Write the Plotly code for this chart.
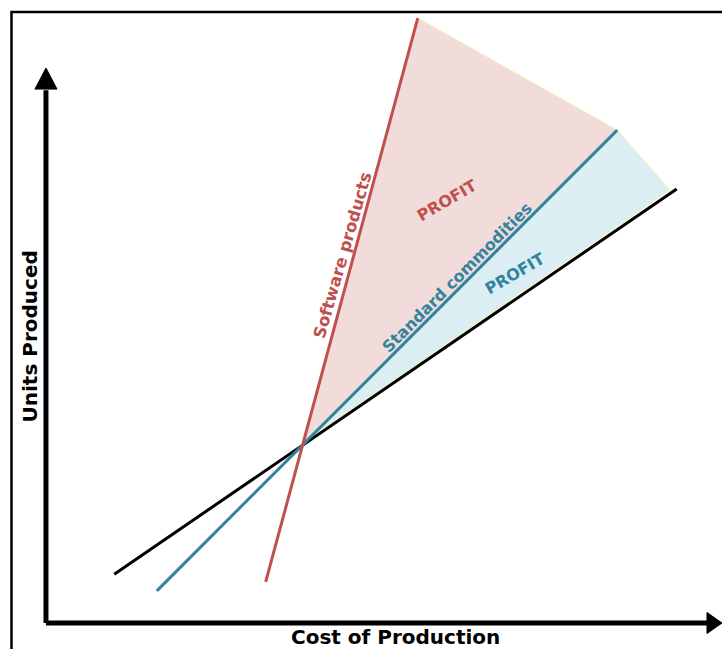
import plotly.graph_objects as go

# ---- data (axis units: cost 0-100, units 0-100) ----
break_even = [37.9, 32.4]            # common crossing point (cost, units)
cost_line_x = [10.1, 93.3]           # black cost line
cost_line_y = [8.8, 78.2]
commodity_x = [16.4, 84.5]           # standard commodities
commodity_y = [5.8, 88.8]
software_x = [32.5, 55.0]            # software products
software_y = [7.4, 109.0]
blue_corner = [92.3, 78.0]           # end of commodity profit band on cost line

labels = {
    "software": "Software products",
    "commodity": "Standard commodities",
    "profit": "PROFIT",
    "x_title": "Cost of Production",
    "y_title": "Units Produced",
}

RED = "#c0504d"
TEAL = "#31849b"
PINK = "#f2dcdb"
BLUE = "#daeef3"
EDGE = "#f3f0b0"
FONT = "DejaVu Sans"

X_RANGE = [-6.8, 100.0]
Y_RANGE = [-4.68, 112.25]

fig = go.Figure()

# profit regions
fig.add_trace(go.Scatter(
    x=[break_even[0], software_x[1], commodity_x[1], break_even[0]],
    y=[break_even[1], software_y[1], commodity_y[1], break_even[1]],
    fill="toself", fillcolor=PINK, mode="lines",
    line=dict(color=EDGE, width=1), hoverinfo="skip", showlegend=False))
fig.add_trace(go.Scatter(
    x=[break_even[0], commodity_x[1], blue_corner[0], break_even[0]],
    y=[break_even[1], commodity_y[1], blue_corner[1], break_even[1]],
    fill="toself", fillcolor=BLUE, mode="lines",
    line=dict(color=EDGE, width=1), hoverinfo="skip", showlegend=False))

# lines
fig.add_trace(go.Scatter(x=cost_line_x, y=cost_line_y, mode="lines",
                         line=dict(color="black", width=3), showlegend=False))
fig.add_trace(go.Scatter(x=commodity_x, y=commodity_y, mode="lines",
                         line=dict(color=TEAL, width=3), showlegend=False))
fig.add_trace(go.Scatter(x=software_x, y=software_y, mode="lines",
                         line=dict(color=RED, width=3), showlegend=False))

# axes arrows
x_end = 100.0
y_end = 100.0
fig.add_shape(type="line", x0=0, y0=0, x1=0, y1=y_end - 4, line=dict(color="black", width=5))
fig.add_shape(type="line", x0=0, y0=0, x1=x_end - 2, y1=0, line=dict(color="black", width=5))
fig.add_shape(type="path",
              path=f"M {-1.63} {y_end-3.8} L {1.63} {y_end-3.8} L 0 {y_end} Z",
              fillcolor="black", line=dict(color="black", width=1))
fig.add_shape(type="path",
              path=f"M {x_end-2.22} {-1.9} L {x_end-2.22} {1.9} L {x_end} 0 Z",
              fillcolor="black", line=dict(color="black", width=1))

# frame
fig.add_shape(type="rect", xref="paper", yref="paper",
              x0=11.5/722, x1=1.05, y0=-0.05, y1=1 - 12/649,
              line=dict(color="black", width=2.5))

# text labels
fig.add_annotation(x=43.9, y=66.2, text=f"<b>{labels['software']}</b>",
                   textangle=-74, showarrow=False, font=dict(family=FONT, size=16.5, color=RED))
fig.add_annotation(x=60.8, y=62.3, text=f"<b>{labels['commodity']}</b>",
                   textangle=-45, showarrow=False, font=dict(family=FONT, size=16, color=TEAL))
fig.add_annotation(x=59.3, y=76.2, text=f"<b>{labels['profit']}</b>",
                   textangle=-30, showarrow=False, font=dict(family=FONT, size=16, color=RED))
fig.add_annotation(x=69.4, y=63.0, text=f"<b>{labels['profit']}</b>",
                   textangle=-30, showarrow=False, font=dict(family=FONT, size=16, color=TEAL))

# axis titles
fig.add_annotation(x=51.7, y=-2.5, text=f"<b>{labels['x_title']}</b>", showarrow=False,
                   font=dict(family=FONT, size=20, color="black"))
fig.add_annotation(x=-2.3, y=51.7, text=f"<b>{labels['y_title']}</b>", showarrow=False,
                   textangle=-90, font=dict(family=FONT, size=20, color="black"))

fig.update_xaxes(range=X_RANGE, visible=False, fixedrange=True)
fig.update_yaxes(range=Y_RANGE, visible=False, fixedrange=True)
fig.update_layout(width=722, height=649, margin=dict(l=0, r=0, t=0, b=0),
                  plot_bgcolor="white", paper_bgcolor="white", showlegend=False)

fig.write_html("out.html", config={"displayModeBar": False},
               post_script="document.body.style.margin='0';document.body.style.overflow='hidden';")
